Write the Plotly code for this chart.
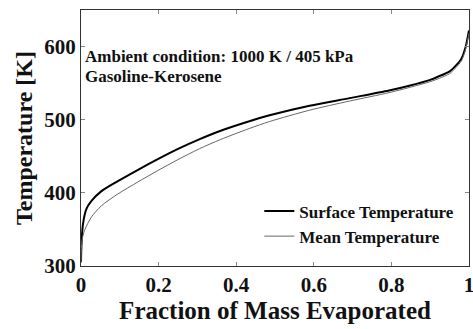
import plotly.graph_objects as go

frac_surface = [0, 0.001, 0.005, 0.014, 0.027, 0.052, 0.095, 0.147, 0.198, 0.25,
                0.306, 0.36, 0.434, 0.486, 0.589, 0.692, 0.794, 0.846, 0.9, 0.923,
                0.95, 0.966, 0.98, 0.987, 0.993, 0.997, 1.0]
surface_T = [305, 326, 357, 378, 389, 402, 416, 431.5, 446, 460,
             473.5, 485, 498, 506, 519, 529.5, 540, 546.5, 554.5, 559.5,
             566, 574, 583, 592, 603, 614, 622]
frac_mean = [0, 0.0026, 0.0094, 0.027, 0.052, 0.095, 0.147, 0.198, 0.25,
             0.306, 0.36, 0.434, 0.486, 0.589, 0.692, 0.794, 0.846, 0.9, 0.923,
             0.95, 0.966, 0.98, 0.987, 0.993, 0.997, 1.0]
mean_T = [305, 335, 349, 367, 382, 398.5, 415, 430.5, 445.5,
          460.5, 473, 488, 497.5, 513, 525.5, 537, 544, 552, 556.5,
          563, 571, 580, 589, 600, 611, 618]

x_ticks = [0, 0.2, 0.4, 0.6, 0.8, 1]
x_tick_labels = ["0", "0.2", "0.4", "0.6", "0.8", "1"]
y_ticks = [300, 400, 500, 600]

font_family = "Liberation Serif, Times New Roman, serif"

fig = go.Figure()
fig.add_trace(go.Scatter(x=frac_surface, y=surface_T, mode="lines", name="Surface Temperature",
                         line=dict(color="#000000", width=2, shape="spline", smoothing=0.8)))
fig.add_trace(go.Scatter(x=frac_mean, y=mean_T, mode="lines", name="Mean Temperature",
                         line=dict(color="#666666", width=1, shape="spline", smoothing=0.8)))

axis_common = dict(showgrid=False, zeroline=False, showline=True, linecolor="#333333",
                   linewidth=1, mirror="ticks", ticks="inside", ticklen=4,
                   tickcolor="#888888", ticklabeloverflow="allow", automargin=False,
                   tickfont=dict(family=font_family, size=21, color="#111111", weight="bold"))

fig.update_layout(
    width=473, height=329,
    margin=dict(l=81, r=4, t=10, b=63),
    paper_bgcolor="white", plot_bgcolor="white",
    font=dict(family=font_family, color="#111111"),
    xaxis=dict(range=[0, 1], tickvals=x_ticks, ticktext=x_tick_labels,
               title=dict(text="Fraction of Mass Evaporated",
                          font=dict(family=font_family, size=25, weight="bold"), standoff=4),
               **axis_common),
    yaxis=dict(range=[300, 650], tickvals=y_ticks,
               title=dict(text="Temperature [K]",
                          font=dict(family=font_family, size=24, weight="bold"), standoff=4),
               **axis_common),
    legend=dict(x=0.975, y=0.045, xanchor="right", yanchor="bottom",
                bgcolor="rgba(0,0,0,0)", tracegroupgap=0,
                font=dict(family=font_family, size=17, color="#111111", weight="bold"),
                itemwidth=30),
    showlegend=True,
)

fig.add_annotation(x=0.005, y=0.82, xref="paper", yref="paper", xanchor="left", yanchor="middle",
                   text="Ambient condition: 1000 K / 405 kPa", showarrow=False, align="left",
                   font=dict(family=font_family, size=17, color="#111111", weight="bold"))
fig.add_annotation(x=0.005, y=0.742, xref="paper", yref="paper", xanchor="left", yanchor="middle",
                   text="Gasoline-Kerosene", showarrow=False, align="left",
                   font=dict(family=font_family, size=17, color="#111111", weight="bold"))

fig.write_html("out.html")
